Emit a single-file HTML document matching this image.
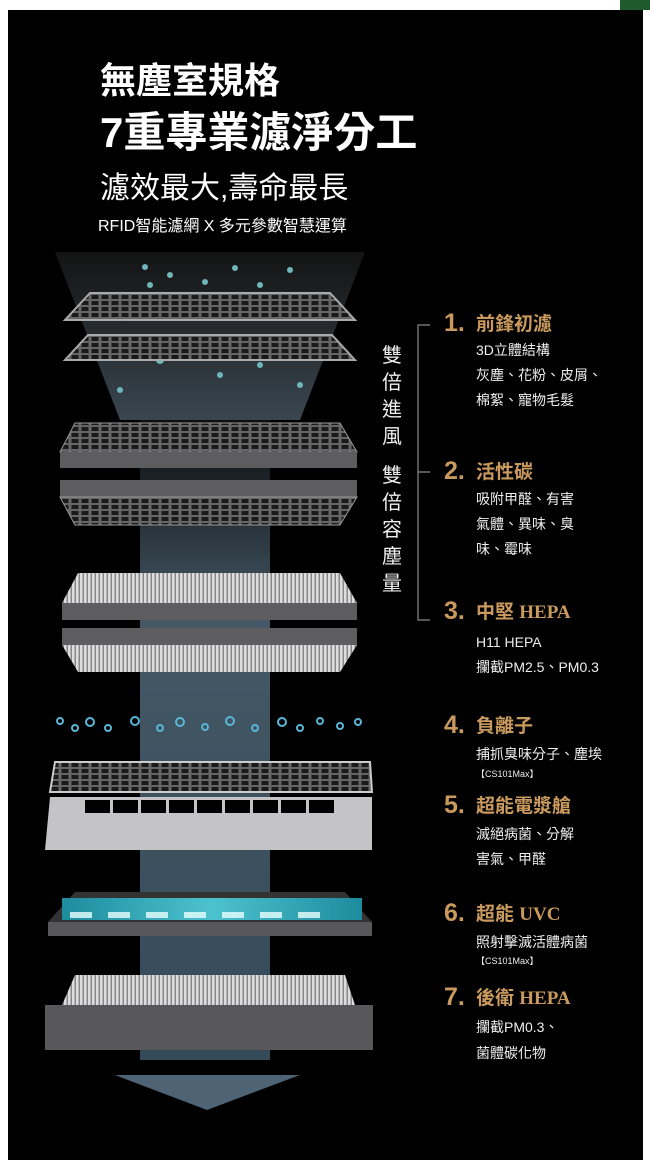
<!DOCTYPE html>
<html><head><meta charset="utf-8"><style>
html,body{margin:0;padding:0;background:#fff;width:650px;height:1165px;overflow:hidden}
svg{display:block}
text{font-family:"Liberation Sans","Noto Sans CJK TC",sans-serif}
.g{fill:#c9995d;font-weight:bold}
.w{fill:#eee}
</style></head><body>
<svg width="650" height="1165" viewBox="0 0 650 1165" xmlns="http://www.w3.org/2000/svg">
<defs>
<linearGradient id="beam" x1="0" y1="0" x2="0" y2="1"><stop offset="0" stop-color="#3a4650" stop-opacity="0.2"/><stop offset="0.3" stop-color="#445866"/><stop offset="1" stop-color="#354a58"/></linearGradient>
<linearGradient id="topbeam" x1="0" y1="0" x2="0" y2="1"><stop offset="0" stop-color="#1a1a1a"/><stop offset="1" stop-color="#4d5d6a"/></linearGradient>
<pattern id="grid" width="10" height="6" patternUnits="userSpaceOnUse"><rect width="10" height="6" fill="#666"/><rect x="1.5" y="1" width="7" height="4" fill="#1a1a1a"/></pattern>
<pattern id="wgrid" width="4" height="6" patternUnits="userSpaceOnUse"><rect width="4" height="6" fill="#ddd"/><rect x="2.5" width="1.5" height="6" fill="#888"/></pattern>
<linearGradient id="uvc" x1="0" y1="0" x2="1" y2="0"><stop offset="0" stop-color="#1d8c9c"/><stop offset="0.5" stop-color="#4dc2cf"/><stop offset="1" stop-color="#1d8c9c"/></linearGradient>
</defs>
<rect width="650" height="1165" fill="#fff"/>
<rect x="620" y="0" width="30" height="10" fill="#1e5a2c"/>
<rect x="8" y="10" width="635" height="1150" fill="#000"/>

<text x="100" y="93" font-size="36" font-weight="bold" fill="#fff">無塵室規格</text>
<text x="100" y="147" font-size="42" font-weight="bold" fill="#fff">7重專業濾淨分工</text>
<text x="100" y="198" font-size="30" fill="#fff">濾效最大,壽命最長</text>
<text x="98" y="231" font-size="16" fill="#fff">RFID智能濾網 X 多元參數智慧運算</text>

<polygon points="55,252 365,252 300,420 120,420" fill="url(#topbeam)" opacity="0.75"/>
<rect x="140" y="420" width="130" height="640" fill="url(#beam)"/>
<polygon points="115,1075 300,1075 207,1110" fill="#4e6373"/>

<g fill="#6fb6bb">
<circle cx="145" cy="267" r="3"/><circle cx="170" cy="275" r="3"/><circle cx="235" cy="268" r="3"/><circle cx="205" cy="282" r="3"/><circle cx="290" cy="270" r="3"/><circle cx="260" cy="285" r="3"/><circle cx="180" cy="295" r="3"/><circle cx="150" cy="285" r="3"/>
<circle cx="160" cy="360" r="4"/><circle cx="220" cy="375" r="3"/><circle cx="260" cy="365" r="3"/><circle cx="120" cy="390" r="3"/><circle cx="300" cy="385" r="3"/>
</g>
<polygon points="90,293 330,293 355,320 65,320" fill="url(#grid)" stroke="#aaa" stroke-width="2"/>
<polygon points="88,335 332,335 355,360 65,360" fill="url(#grid)" stroke="#aaa" stroke-width="2"/>
<polygon points="75,423 340,423 357,452 60,452" fill="url(#grid)" stroke="#999"/>
<rect x="60" y="452" width="297" height="16" fill="#5d5d60"/>
<rect x="60" y="480" width="297" height="17" fill="#5d5d60"/>
<polygon points="60,497 357,497 340,525 75,525" fill="url(#grid)" stroke="#999"/>
<polygon points="78,573 340,573 357,603 62,603" fill="url(#wgrid)"/>
<rect x="62" y="603" width="295" height="17" fill="#5d5d60"/>
<rect x="62" y="628" width="295" height="17" fill="#5d5d60"/>
<polygon points="62,645 357,645 340,672 78,672" fill="url(#wgrid)"/>
<g fill="none" stroke="#5ab6d6" stroke-width="2">
<circle cx="60" cy="721" r="3"/><circle cx="75" cy="728" r="3"/><circle cx="90" cy="722" r="4"/><circle cx="108" cy="728" r="3"/><circle cx="135" cy="721" r="4"/><circle cx="160" cy="728" r="3"/><circle cx="180" cy="722" r="4"/><circle cx="205" cy="727" r="3"/><circle cx="230" cy="721" r="4"/><circle cx="255" cy="728" r="3"/><circle cx="282" cy="722" r="4"/><circle cx="300" cy="728" r="3"/><circle cx="320" cy="721" r="3"/><circle cx="340" cy="726" r="3"/><circle cx="358" cy="722" r="3"/>
</g>
<polygon points="55,762 370,762 372,792 50,792" fill="url(#grid)" stroke="#ccc" stroke-width="2"/>
<polygon points="50,797 372,797 372,850 45,850" fill="#c4c4c6"/>
<g fill="#000"><rect x="85" y="800" width="25" height="13"/><rect x="113" y="800" width="25" height="13"/><rect x="141" y="800" width="25" height="13"/><rect x="169" y="800" width="25" height="13"/><rect x="197" y="800" width="25" height="13"/><rect x="225" y="800" width="25" height="13"/><rect x="253" y="800" width="25" height="13"/><rect x="281" y="800" width="25" height="13"/><rect x="309" y="800" width="25" height="13"/></g>
<polygon points="75,892 345,892 372,922 48,922" fill="#333"/>
<rect x="62" y="898" width="300" height="22" fill="url(#uvc)"/>
<g fill="#e8ffff" opacity="0.8"><rect x="70" y="912" width="22" height="6"/><rect x="108" y="912" width="22" height="6"/><rect x="146" y="912" width="22" height="6"/><rect x="184" y="912" width="22" height="6"/><rect x="222" y="912" width="22" height="6"/><rect x="260" y="912" width="22" height="6"/><rect x="298" y="912" width="22" height="6"/></g>
<rect x="48" y="922" width="324" height="14" fill="#58585b"/>
<polygon points="75,975 345,975 355,1005 62,1005" fill="url(#wgrid)"/>
<rect x="45" y="1005" width="328" height="45" fill="#58585b"/>

<g stroke="#888" stroke-width="1.2" fill="none"><path d="M430,325 H418 V620 H430 M418,472 H430"/></g>
<g class="w" font-size="20" text-anchor="middle">
<text x="392" y="362">雙</text><text x="392" y="389">倍</text><text x="392" y="416">進</text><text x="392" y="443">風</text>
<text x="392" y="482">雙</text><text x="392" y="509">倍</text><text x="392" y="536">容</text><text x="392" y="563">塵</text><text x="392" y="590">量</text>
</g>

<g font-size="14" class="w">
<text class="g" x="444" y="331" font-size="25" font-family="Liberation Serif">1.</text><text class="g" x="476" y="330" font-size="19">前鋒初濾</text>
<text x="476" y="355">3D立體結構</text><text x="476" y="380">灰塵、花粉、皮屑、</text><text x="476" y="405">棉絮、寵物毛髮</text>
<text class="g" x="444" y="479" font-size="25" font-family="Liberation Serif">2.</text><text class="g" x="476" y="478" font-size="19">活性碳</text>
<text x="476" y="504">吸附甲醛、有害</text><text x="476" y="529">氣體、異味、臭</text><text x="476" y="554">味、霉味</text>
<text class="g" x="444" y="619" font-size="25" font-family="Liberation Serif">3.</text><text class="g" x="476" y="618" font-size="19">中堅 <tspan font-family="Liberation Serif">HEPA</tspan></text>
<text x="476" y="647">H11 HEPA</text><text x="476" y="672">攔截PM2.5、PM0.3</text>
<text class="g" x="444" y="733" font-size="25" font-family="Liberation Serif">4.</text><text class="g" x="476" y="732" font-size="19">負離子</text>
<text x="476" y="759">捕抓臭味分子、塵埃</text><text x="476" y="777" font-size="9">【CS101Max】</text>
<text class="g" x="444" y="813" font-size="25" font-family="Liberation Serif">5.</text><text class="g" x="476" y="812" font-size="19">超能電漿艙</text>
<text x="476" y="839">滅絕病菌、分解</text><text x="476" y="864">害氣、甲醛</text>
<text class="g" x="444" y="921" font-size="25" font-family="Liberation Serif">6.</text><text class="g" x="476" y="920" font-size="19">超能 <tspan font-family="Liberation Serif">UVC</tspan></text>
<text x="476" y="947">照射擊滅活體病菌</text><text x="476" y="964" font-size="9">【CS101Max】</text>
<text class="g" x="444" y="1005" font-size="25" font-family="Liberation Serif">7.</text><text class="g" x="476" y="1004" font-size="19">後衛 <tspan font-family="Liberation Serif">HEPA</tspan></text>
<text x="476" y="1032">攔截PM0.3、</text><text x="476" y="1058">菌體碳化物</text>
</g>
</svg>
</body></html>
